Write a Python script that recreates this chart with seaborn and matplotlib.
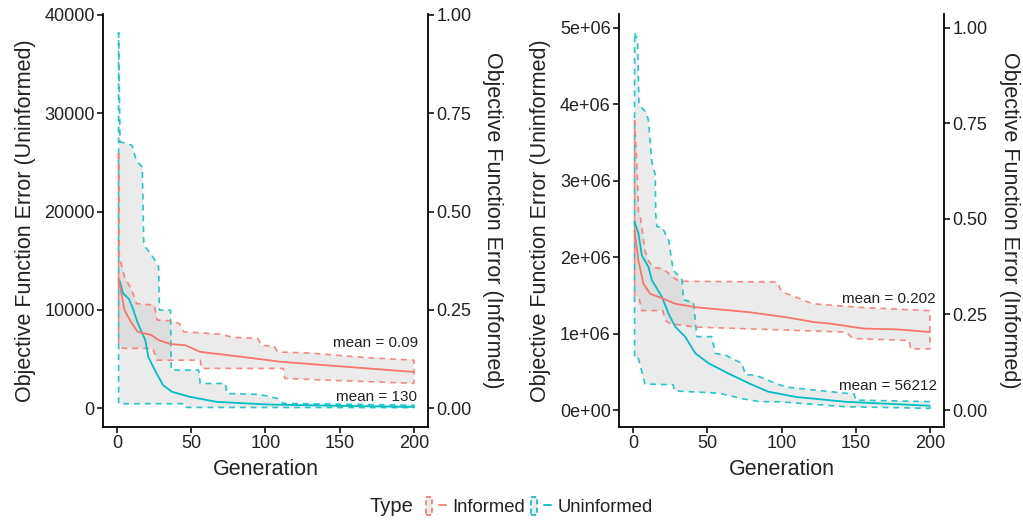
import numpy as np
import pandas as pd
import matplotlib
matplotlib.use("Agg")
import matplotlib.pyplot as plt
import seaborn as sns
from matplotlib.patches import Rectangle
from matplotlib.lines import Line2D
from matplotlib.legend_handler import HandlerTuple
from matplotlib.ticker import FuncFormatter, FixedLocator

sns.set_theme(style="ticks")
plt.rcParams["font.family"] = ["Liberation Sans", "DejaVu Sans"]

RED = "#F8766D"
CYAN = "#00BFC4"
TXT = "#222222"

# ---------------- data : left panel (informed scaled by 40000) ----------------
L_unf_upper_gen = [1, 2, 10, 13, 17, 18, 24, 28, 28.5, 36, 36.5, 55, 56, 73, 74, 96, 108, 112, 200]
L_unf_upper_val = [38250, 27100, 26750, 25200, 24500, 16600, 15400, 14400, 9970, 9970, 3870, 3870,
                   2510, 2510, 1490, 1390, 990, 480, 300]
L_unf_lower_gen = [1, 46, 47, 200]
L_unf_lower_val = [450, 450, 70, 50]
L_unf_mean_gen = [1, 2, 4, 8, 11, 14, 19, 21, 26, 31, 37, 49, 67, 101, 150, 200]
L_unf_mean_val = [13000, 12850, 11670, 11100, 9970, 8620, 6920, 5220, 3700, 2340, 1660, 1150,
                  640, 370, 230, 130]

L_inf_upper_gen = [1, 1.5, 5, 10, 13, 25, 27, 36, 42, 45, 70, 78, 95, 97, 106, 108, 130, 170, 200]
L_inf_upper_val = [0.648, 0.385, 0.334, 0.300, 0.266, 0.262, 0.224, 0.222, 0.215, 0.194, 0.188,
                   0.180, 0.177, 0.160, 0.157, 0.143, 0.140, 0.128, 0.122]
L_inf_lower_gen = [1, 4, 24, 27, 56, 57, 112, 113, 150, 200]
L_inf_lower_val = [0.165, 0.152, 0.152, 0.122, 0.122, 0.101, 0.101, 0.0755, 0.070, 0.063]
L_inf_mean_gen = [1, 2, 5, 10, 14, 23, 28, 36, 46, 56, 83, 110, 155, 200]
L_inf_mean_val = [0.330, 0.309, 0.249, 0.215, 0.194, 0.186, 0.173, 0.163, 0.160, 0.143, 0.131,
                  0.118, 0.105, 0.092]

# ---------------- data : right panel (informed scaled by 5e6) ----------------
R_unf_upper_gen = [1, 3, 4, 6, 9, 10.4, 12.6, 14.9, 15.3, 16, 19.6, 24, 27, 33, 34, 40.7, 43, 53,
                   55.4, 62, 73.4, 75.7, 82, 96, 103, 143, 149, 150, 200]
R_unf_upper_val = [4.93e6, 4.84e6, 3.99e6, 3.95e6, 3.89e6, 3.78e6, 3.25e6, 3.08e6, 2.56e6, 2.40e6,
                   2.39e6, 2.22e6, 1.83e6, 1.70e6, 1.44e6, 1.41e6, 0.96e6, 0.96e6, 0.74e6, 0.72e6,
                   0.61e6, 0.46e6, 0.46e6, 0.35e6, 0.30e6, 0.22e6, 0.21e6, 0.13e6, 0.11e6]
R_unf_lower_gen = [1, 3.6, 8, 27, 28, 58, 73, 85, 98.5, 143.5, 200]
R_unf_lower_val = [0.675e6, 0.675e6, 0.34e6, 0.33e6, 0.25e6, 0.22e6, 0.15e6, 0.11e6, 0.108e6,
                   0.043e6, 0.022e6]
R_unf_mean_gen = [1, 3.6, 5.9, 10.4, 12.6, 19.4, 23.9, 28.4, 35, 42, 51, 64, 78, 91, 103, 110,
                  121, 143, 200]
R_unf_mean_val = [2.46e6, 2.31e6, 2.02e6, 1.87e6, 1.70e6, 1.48e6, 1.26e6, 1.09e6, 0.96e6, 0.74e6,
                  0.61e6, 0.48e6, 0.35e6, 0.24e6, 0.196e6, 0.17e6, 0.15e6, 0.108e6, 0.056e6]

R_inf_upper_gen = [1, 2, 3, 3.6, 5, 8, 10.4, 13.7, 20, 27.2, 31, 97, 100, 121, 155, 200]
R_inf_upper_val = [0.758, 0.684, 0.597, 0.519, 0.503, 0.417, 0.390, 0.373, 0.370, 0.347, 0.337,
                   0.335, 0.310, 0.278, 0.268, 0.260]
R_inf_lower_gen = [1, 3.9, 5.9, 20, 21.8, 25, 42, 143.5, 148, 186, 187, 200]
R_inf_lower_val = [0.300, 0.295, 0.260, 0.260, 0.234, 0.226, 0.217, 0.204, 0.187, 0.182, 0.160, 0.160]
R_inf_mean_gen = [1, 3.6, 7, 11.5, 20.5, 28.4, 42, 78, 102.7, 122, 133, 155.6, 178, 200]
R_inf_mean_val = [0.470, 0.390, 0.330, 0.304, 0.291, 0.278, 0.269, 0.256, 0.243, 0.230, 0.226,
                  0.213, 0.211, 0.204]

mean_labels_left = ["mean = 0.09", "mean = 130"]
mean_labels_right = ["mean = 0.202", "mean = 56212"]

types = ["Informed", "Uninformed"]
palette = {"Informed": RED, "Uninformed": CYAN}

W, H = 1023, 523
fig = plt.figure(figsize=(W / 100, H / 100), dpi=100)


def px_rect(x0, x1, y0, y1):
    return [x0 / W, 1 - y1 / H, (x1 - x0) / W, (y1 - y0) / H]


panels = [
    dict(rect=px_rect(103, 428, 14, 427), scale=40000.0, ylim=(-1920, 40100),
         yticks=[0, 10000, 20000, 30000, 40000], fmt=lambda v, p: f"{v:.0f}",
         unf=(L_unf_upper_gen, L_unf_upper_val, L_unf_lower_gen, L_unf_lower_val,
              L_unf_mean_gen, L_unf_mean_val),
         inf=(L_inf_upper_gen, L_inf_upper_val, L_inf_lower_gen, L_inf_lower_val,
              L_inf_mean_gen, L_inf_mean_val),
         labels=mean_labels_left, lab_pos=[(203, 6600), (202, 1150)],
         ylab_x=(-0.24, 1.2)),
    dict(rect=px_rect(619, 944, 14, 427), scale=5e6, ylim=(-0.222e6, 5.18e6),
         yticks=[0, 1e6, 2e6, 3e6, 4e6, 5e6], fmt=lambda v, p: f"{v:.0e}",
         unf=(R_unf_upper_gen, R_unf_upper_val, R_unf_lower_gen, R_unf_lower_val,
              R_unf_mean_gen, R_unf_mean_val),
         inf=(R_inf_upper_gen, R_inf_upper_val, R_inf_lower_gen, R_inf_lower_val,
              R_inf_mean_gen, R_inf_mean_val),
         labels=mean_labels_right, lab_pos=[(204, 1.458e6), (205, 0.317e6)],
         ylab_x=(-0.243, 1.203)),
]

for P in panels:
    ax = fig.add_axes(P["rect"])
    s = P["scale"]
    rows = []
    series = {"Uninformed": (P["unf"], 1.0), "Informed": (P["inf"], s)}
    # ribbons
    for typ in ["Uninformed", "Informed"]:
        (gu, vu, gl, vl, gm, vm), k = series[typ]
        xs = np.concatenate([np.asarray(gu, float), np.asarray(gl, float)[::-1]])
        ys = np.concatenate([np.asarray(vu, float) * k, np.asarray(vl, float)[::-1] * k])
        ax.fill(xs, ys, color="#bdbdbd", alpha=0.3, lw=0, zorder=1)
    for typ in ["Uninformed", "Informed"]:
        (gu, vu, gl, vl, gm, vm), k = series[typ]
        xs = np.concatenate([np.asarray(gu, float), np.asarray(gl, float)[::-1], [gu[0]]])
        ys = np.concatenate([np.asarray(vu, float) * k, np.asarray(vl, float)[::-1] * k, [vu[0] * k]])
        ax.plot(xs, ys, color=palette[typ], lw=1.2, ls=(0, (3.5, 3)), alpha=0.85, zorder=2)
        for g, v in zip(gm, vm):
            rows.append({"Generation": g, "Error": v * k, "Type": typ})
    df = pd.DataFrame(rows)
    sns.lineplot(data=df, x="Generation", y="Error", hue="Type", palette=palette,
                 estimator=None, sort=False, ax=ax, legend=False, linewidth=1.3, zorder=3)

    ax.set_xlim(-9.5, 209.5)
    ax.set_ylim(*P["ylim"])
    ax.xaxis.set_major_locator(FixedLocator([0, 50, 100, 150, 200]))
    ax.yaxis.set_major_locator(FixedLocator(P["yticks"]))
    ax.yaxis.set_major_formatter(FuncFormatter(P["fmt"]))
    ax.set_xlabel("Generation", fontsize=15.5, color=TXT, labelpad=5)
    ax.set_ylabel("Objective Function Error (Uninformed)", fontsize=15.5, color=TXT,
                  va="center", ha="center")
    ax.yaxis.set_label_coords(P["ylab_x"][0], 0.5)
    for sp in ["top", "right"]:
        ax.spines[sp].set_visible(False)
    for sp in ["left", "bottom"]:
        ax.spines[sp].set_color("black")
        ax.spines[sp].set_linewidth(1.3)
    ax.tick_params(axis="both", direction="out", length=4, width=1.1, color="black",
                   labelsize=13, labelcolor=TXT, pad=2, bottom=True, left=True)

    ax2 = ax.twinx()
    ax2.set_ylim(P["ylim"][0] / s, P["ylim"][1] / s)
    ax2.yaxis.set_major_locator(FixedLocator([0, 0.25, 0.5, 0.75, 1.0]))
    ax2.yaxis.set_major_formatter(FuncFormatter(lambda v, p: f"{v:.2f}"))
    for sp in ["top", "left", "bottom"]:
        ax2.spines[sp].set_visible(False)
    ax2.spines["right"].set_color("black")
    ax2.spines["right"].set_linewidth(1.3)
    ax2.tick_params(axis="y", direction="out", length=4, width=1.1, color="black",
                    labelsize=13, labelcolor=TXT, pad=2, right=True)
    ax2.set_ylabel("Objective Function Error (Informed)", fontsize=15.5, color=TXT,
                   rotation=270, va="center", ha="center")
    ax2.yaxis.set_label_coords(P["ylab_x"][1], 0.5)

    for lab, (gx, gy) in zip(P["labels"], P["lab_pos"]):
        ax.text(gx, gy, lab, ha="right", va="center", fontsize=11, color=TXT, zorder=4)

# legend
handles = []
for typ in types:
    patch = Rectangle((0, 0), 1, 1, facecolor=(0.74, 0.74, 0.74, 0.3),
                      edgecolor=palette[typ], linestyle=(0, (3, 2)), linewidth=1.2)
    line = Line2D([], [], color=palette[typ], lw=1.3)
    handles.append((patch, line))
fig.legend(handles=handles, labels=types, handler_map={tuple: HandlerTuple(ndivide=None)},
           loc="center", bbox_to_anchor=(0.527, 0.031), ncol=2, frameon=False,
           fontsize=13.3, handlelength=1.1, handleheight=1.1, handletextpad=0.35,
           columnspacing=0.3, labelcolor=TXT)
fig.text(370 / W, 0.031, "Type", ha="left", va="center", fontsize=14.5, color=TXT)

fig.savefig("out.png", dpi=100)
